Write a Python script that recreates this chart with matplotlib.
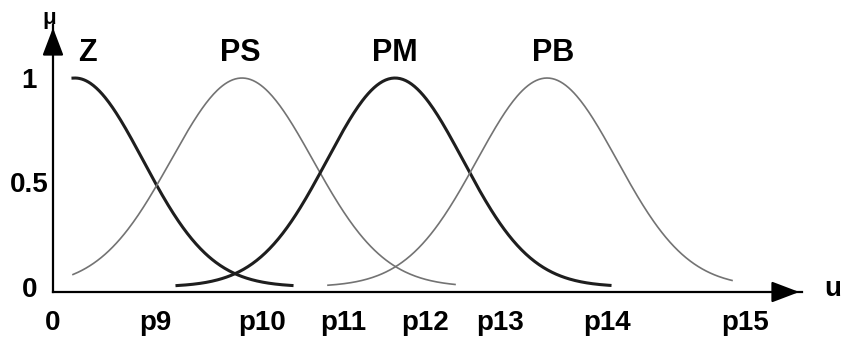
import numpy as np
import matplotlib.pyplot as plt

plt.rcParams['font.family'] = ['Liberation Sans', 'DejaVu Sans']
plt.rcParams['font.weight'] = 'bold'

# gaussian membership functions: name, centre, width, drawn range
names = ['Z', 'PS', 'PM', 'PB']
centres = [0.22, 1.89, 3.42, 4.94]
widths = [0.68, 0.71, 0.68, 0.70]
starts = [0.20, 0.20, 1.24, 2.75]
ends = [2.39, 4.02, 5.57, 6.79]
dark = [True, False, True, False]
label_x = [0.34, 1.87, 3.42, 5.00]

tick_pos = [0, 1.02, 2.09, 2.90, 3.72, 4.47, 5.54, 6.92]
tick_lab = ['0', 'p9', 'p10', 'p11', 'p12', 'p13', 'p14', 'p15']
ytick_pos = [0, 0.5, 1]
ytick_lab = ['0', '0.5', '1']


def gauss(x, c, s):
    return np.exp(-(x - c) ** 2 / (2 * s ** 2))


fig = plt.figure(figsize=(8.41, 3.42), dpi=100)
ax = fig.add_axes([53 / 841, 50 / 342, 749 / 841, 267 / 342])

for i in range(len(names)):
    x = np.linspace(starts[i], ends[i], 300)
    if dark[i]:
        ax.plot(x, gauss(x, centres[i], widths[i]), color='#1e1e1e', lw=2.2)
    else:
        ax.plot(x, gauss(x, centres[i], widths[i]), color='#737373', lw=1.2)
    ax.text(label_x[i], 1.12, names[i], ha='center', va='center',
            fontsize=22, fontweight='bold')

ax.set_xlim(0, 7.49)
ax.set_ylim(-0.025, 1.254)

for s in ['top', 'right']:
    ax.spines[s].set_visible(False)
for s in ['left', 'bottom']:
    ax.spines[s].set_linewidth(1.6)
    ax.spines[s].set_color('black')

ax.set_xticks(tick_pos)
ax.set_xticklabels(tick_lab, fontsize=20, fontweight='bold')
ax.set_yticks(ytick_pos)
ax.set_yticklabels(ytick_lab, fontsize=20, fontweight='bold')
ax.tick_params(axis='x', length=0, pad=13)
ax.tick_params(axis='y', length=0, pad=17)
plt.setp(ax.get_yticklabels(), ha='center')

# arrow heads on both axes
ax.annotate('', xy=(1, 0), xycoords='axes fraction', xytext=(0.97, 0),
            arrowprops=dict(arrowstyle='-|>,head_length=1.0,head_width=0.38',
                            mutation_scale=17, color='black', lw=1.6),
            annotation_clip=False)
ax.annotate('', xy=(0, 1), xycoords='axes fraction', xytext=(0, 0.9),
            arrowprops=dict(arrowstyle='-|>,head_length=1.0,head_width=0.38',
                            mutation_scale=17, color='black', lw=1.6),
            annotation_clip=False)

ax.annotate('μ', xy=(0, 1), xycoords='axes fraction', xytext=(-3, 5),
            textcoords='offset points', ha='center', va='center',
            fontsize=16, fontweight='bold', annotation_clip=False)
ax.annotate('u', xy=(1, 0), xycoords='axes fraction', xytext=(22, 2),
            textcoords='offset points', ha='center', va='center',
            fontsize=20, fontweight='bold', annotation_clip=False)

fig.savefig('out.png', dpi=100)
